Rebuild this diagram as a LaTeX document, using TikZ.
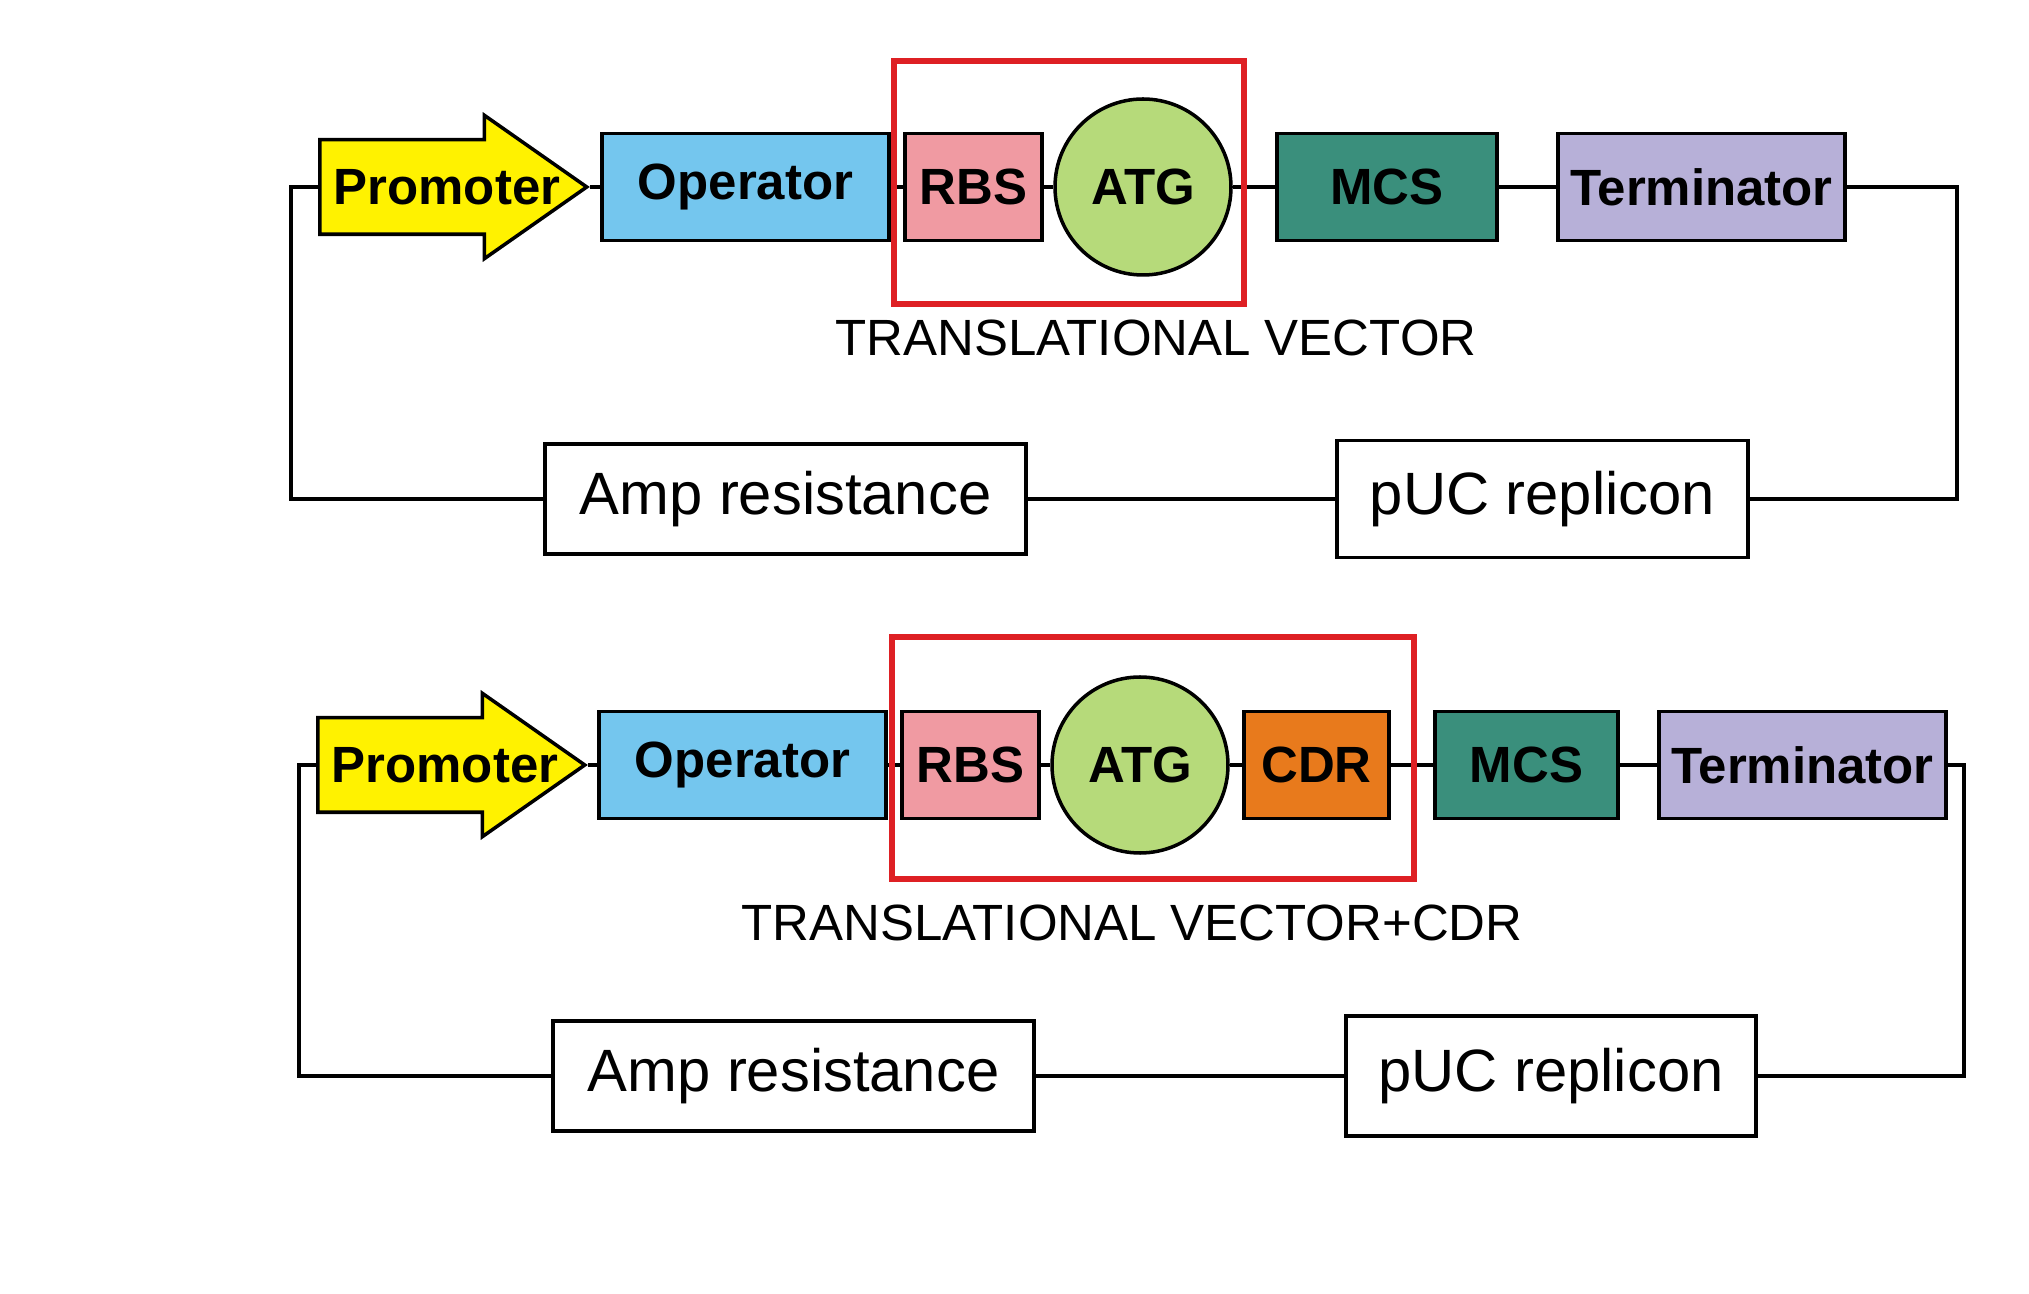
\documentclass[tikz,border=0pt]{standalone}
\usepackage{fontspec}
\setmainfont{Liberation Sans}
\usetikzlibrary{shapes.arrows}

\definecolor{promyellow}{RGB}{255,242,0}
\definecolor{opblue}{RGB}{116,198,238}
\definecolor{rbspink}{RGB}{240,154,162}
\definecolor{atggreen}{RGB}{182,218,122}
\definecolor{mcsteal}{RGB}{58,143,124}
\definecolor{termlilac}{RGB}{183,176,216}
\definecolor{cdrorange}{RGB}{232,122,28}
\definecolor{boxred}{RGB}{222,32,36}

\begin{document}
\begin{tikzpicture}[
    part/.style={draw, line width=1pt, minimum height=1.07cm, inner sep=0pt,
        font=\fontsize{14.5}{17}\selectfont\bfseries},
    prom/.style={draw, line width=1pt, fill=promyellow, single arrow,
        single arrow head extend=0.245cm, single arrow tip angle=70,
        minimum height=2.67cm, text height=0cm, text depth=0cm,
        inner ysep=0.455cm, inner xsep=0pt, anchor=tail},
    promtext/.style={inner sep=0pt, font=\fontsize{14.5}{17}\selectfont\bfseries},
    atgcircle/.style={part, circle, fill=atggreen, minimum size=1.76cm},
    backbone/.style={draw, line width=1pt, minimum height=1.1cm, inner sep=0pt,
        font=\fontsize{17}{20}\selectfont},
    wire/.style={line width=0.9pt},
    region/.style={draw=boxred, line width=1.7pt},
    caption/.style={font=\fontsize{14.5}{17}\selectfont}
]
\useasboundingbox (0,0) rectangle (20.29,-12.94);

% Top vector
\node[prom] (prom1) at (3.18,-1.87) {};
\node[promtext] (promlab1) at ([xshift=1.29cm]prom1.tail) {Promoter};
\node[part, fill=opblue, minimum width=2.87cm] (op1) at (7.455,-1.87) {Operator};
\node[part, fill=rbspink, minimum width=1.37cm] (rbs1) at (9.735,-1.87) {RBS};
\node[atgcircle] (atg1) at (11.43,-1.87) {ATG};
\node[part, fill=mcsteal, minimum width=2.20cm] (mcs1) at (13.87,-1.87) {MCS};
\node[part, fill=termlilac, minimum width=2.87cm] (term1) at (17.015,-1.87) {Terminator};
\node[backbone, minimum width=4.81cm] (amp1) at (7.855,-4.99) {Amp resistance};
\node[backbone, minimum width=4.11cm, minimum height=1.17cm] (puc1) at (15.425,-4.99) {pUC replicon};
\node[caption] (cap1) at (11.56,-3.38) {TRANSLATIONAL VECTOR};
\coordinate (left1) at (2.91,-4.99);
\coordinate (right1) at (19.57,-1.87);

\draw[wire] (prom1.tip) -- (op1.west);
\draw[wire] (op1.east) -- (rbs1.west);
\draw[wire] (rbs1.east) -- (atg1.west);
\draw[wire] (atg1.east) -- (mcs1.west);
\draw[wire] (mcs1.east) -- (term1.west);
\draw[wire] (term1.east) -- (right1) |- (puc1.east);
\draw[wire] (puc1.west) -- (amp1.east);
\draw[wire] (amp1.west) -- (left1) |- (prom1.tail);
\draw[region] (8.94,-0.61) rectangle (12.44,-3.04);

% Bottom vector, with CDR
\node[prom] (prom2) at (3.16,-7.65) {};
\node[promtext] (promlab2) at ([xshift=1.29cm]prom2.tail) {Promoter};
\node[part, fill=opblue, minimum width=2.87cm] (op2) at (7.425,-7.65) {Operator};
\node[part, fill=rbspink, minimum width=1.37cm] (rbs2) at (9.705,-7.65) {RBS};
\node[atgcircle] (atg2) at (11.40,-7.65) {ATG};
\node[part, fill=cdrorange, minimum width=1.45cm] (cdr2) at (13.165,-7.65) {CDR};
\node[part, fill=mcsteal, minimum width=1.83cm] (mcs2) at (15.265,-7.65) {MCS};
\node[part, fill=termlilac, minimum width=2.87cm] (term2) at (18.025,-7.65) {Terminator};
\node[backbone, minimum width=4.81cm] (amp2) at (7.935,-10.76) {Amp resistance};
\node[backbone, minimum width=4.10cm, minimum height=1.2cm] (puc2) at (15.51,-10.76) {pUC replicon};
\node[caption] (cap2) at (11.32,-9.23) {TRANSLATIONAL VECTOR+CDR};
\coordinate (left2) at (2.99,-10.76);
\coordinate (right2) at (19.64,-7.65);

\draw[wire] (prom2.tip) -- (op2.west);
\draw[wire] (op2.east) -- (rbs2.west);
\draw[wire] (rbs2.east) -- (atg2.west);
\draw[wire] (atg2.east) -- (cdr2.west);
\draw[wire] (cdr2.east) -- (mcs2.west);
\draw[wire] (mcs2.east) -- (term2.west);
\draw[wire] (term2.east) -- (right2) |- (puc2.east);
\draw[wire] (puc2.west) -- (amp2.east);
\draw[wire] (amp2.west) -- (left2) |- (prom2.tail);
\draw[region] (8.92,-6.37) rectangle (14.14,-8.79);
\end{tikzpicture}
\end{document}
